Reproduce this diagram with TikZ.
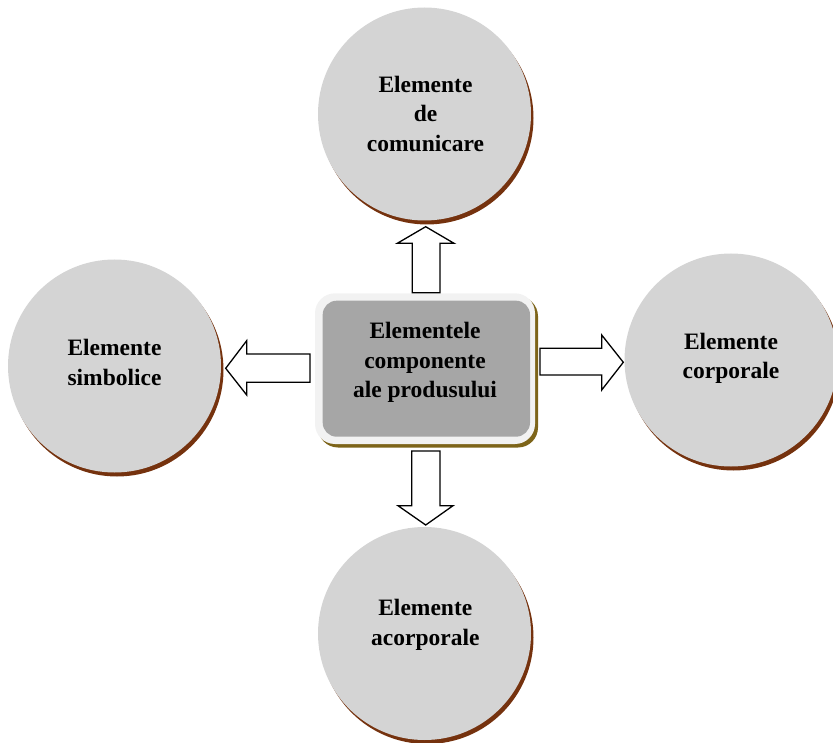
\documentclass[tikz,border=0pt]{standalone}
\usepackage{fontspec}
\setmainfont{Liberation Serif}
\definecolor{circfill}{RGB}{212,212,212}
\definecolor{circshadow}{RGB}{117,50,14}
\definecolor{boxfill}{RGB}{166,166,166}
\definecolor{boxframe}{RGB}{242,242,242}
\definecolor{boxshadow}{RGB}{125,100,25}
\begin{document}
\begin{tikzpicture}[x=1pt,y=-1pt,
  bubble/.style={circle, minimum size=213pt, inner sep=0pt, fill=circfill,
    preaction={fill=circshadow, transform canvas={shift={(2.5pt,-4pt)}}}},
  lbl/.style={align=center, font=\fontsize{23.5}{29.5}\selectfont\bfseries, inner sep=0pt},
  blockarrow/.style={draw=black, line width=1.3pt, fill=white, line join=miter}]
\useasboundingbox (0,0) rectangle (833,743);
% circles
\node[bubble] (com) at (424.5,114) {};
\node[bubble] (sim) at (114.5,366) {};
\node[bubble] (corp) at (731,360) {};
\node[bubble] (acorp) at (424.5,633.5) {};
\node[lbl] at (425.5,115.8) {Elemente\strut\\de\strut\\comunicare\strut};
\node[lbl] at (114.5,364.6) {Elemente\strut\\simbolice\strut};
\node[lbl] at (731,358.1) {Elemente\strut\\corporale\strut};
\node[lbl] at (425.3,624.6) {Elemente\strut\\acorporale\strut};
% central box
\fill[boxshadow, rounded corners=20pt] (318,296.3) rectangle (538,447.5);
\fill[boxframe, rounded corners=20pt] (315,293.3) rectangle (535,444);
\node[fill=boxfill, rounded corners=14pt, minimum width=207.3pt, minimum height=136pt, inner sep=0pt] (prod) at (426.35,368.7) {};
\node[lbl] at (425,362.4) {Elementele\strut\\componente\strut\\ale produsului\strut};
% arrows
\draw[blockarrow] (412.3,292.7) -- (412.3,243.3) -- (397.3,243.3) -- (425.7,226.7) -- (454,243.3) -- (440,243.3) -- (440,292.7) -- cycle;
\draw[blockarrow] (310,354) -- (246.7,354) -- (246.7,340.7) -- (225.7,368.3) -- (246.7,395) -- (246.7,382.3) -- (310,382.3) -- cycle;
\draw[blockarrow] (540,348.3) -- (601.7,348.3) -- (601.7,335) -- (623.3,362.3) -- (601.7,390) -- (601.7,375) -- (540,375) -- cycle;
\draw[blockarrow] (411.7,451) -- (440,451) -- (440,505.7) -- (453,505.7) -- (425.7,525) -- (398,505.7) -- (411.7,505.7) -- cycle;
\end{tikzpicture}
\end{document}
